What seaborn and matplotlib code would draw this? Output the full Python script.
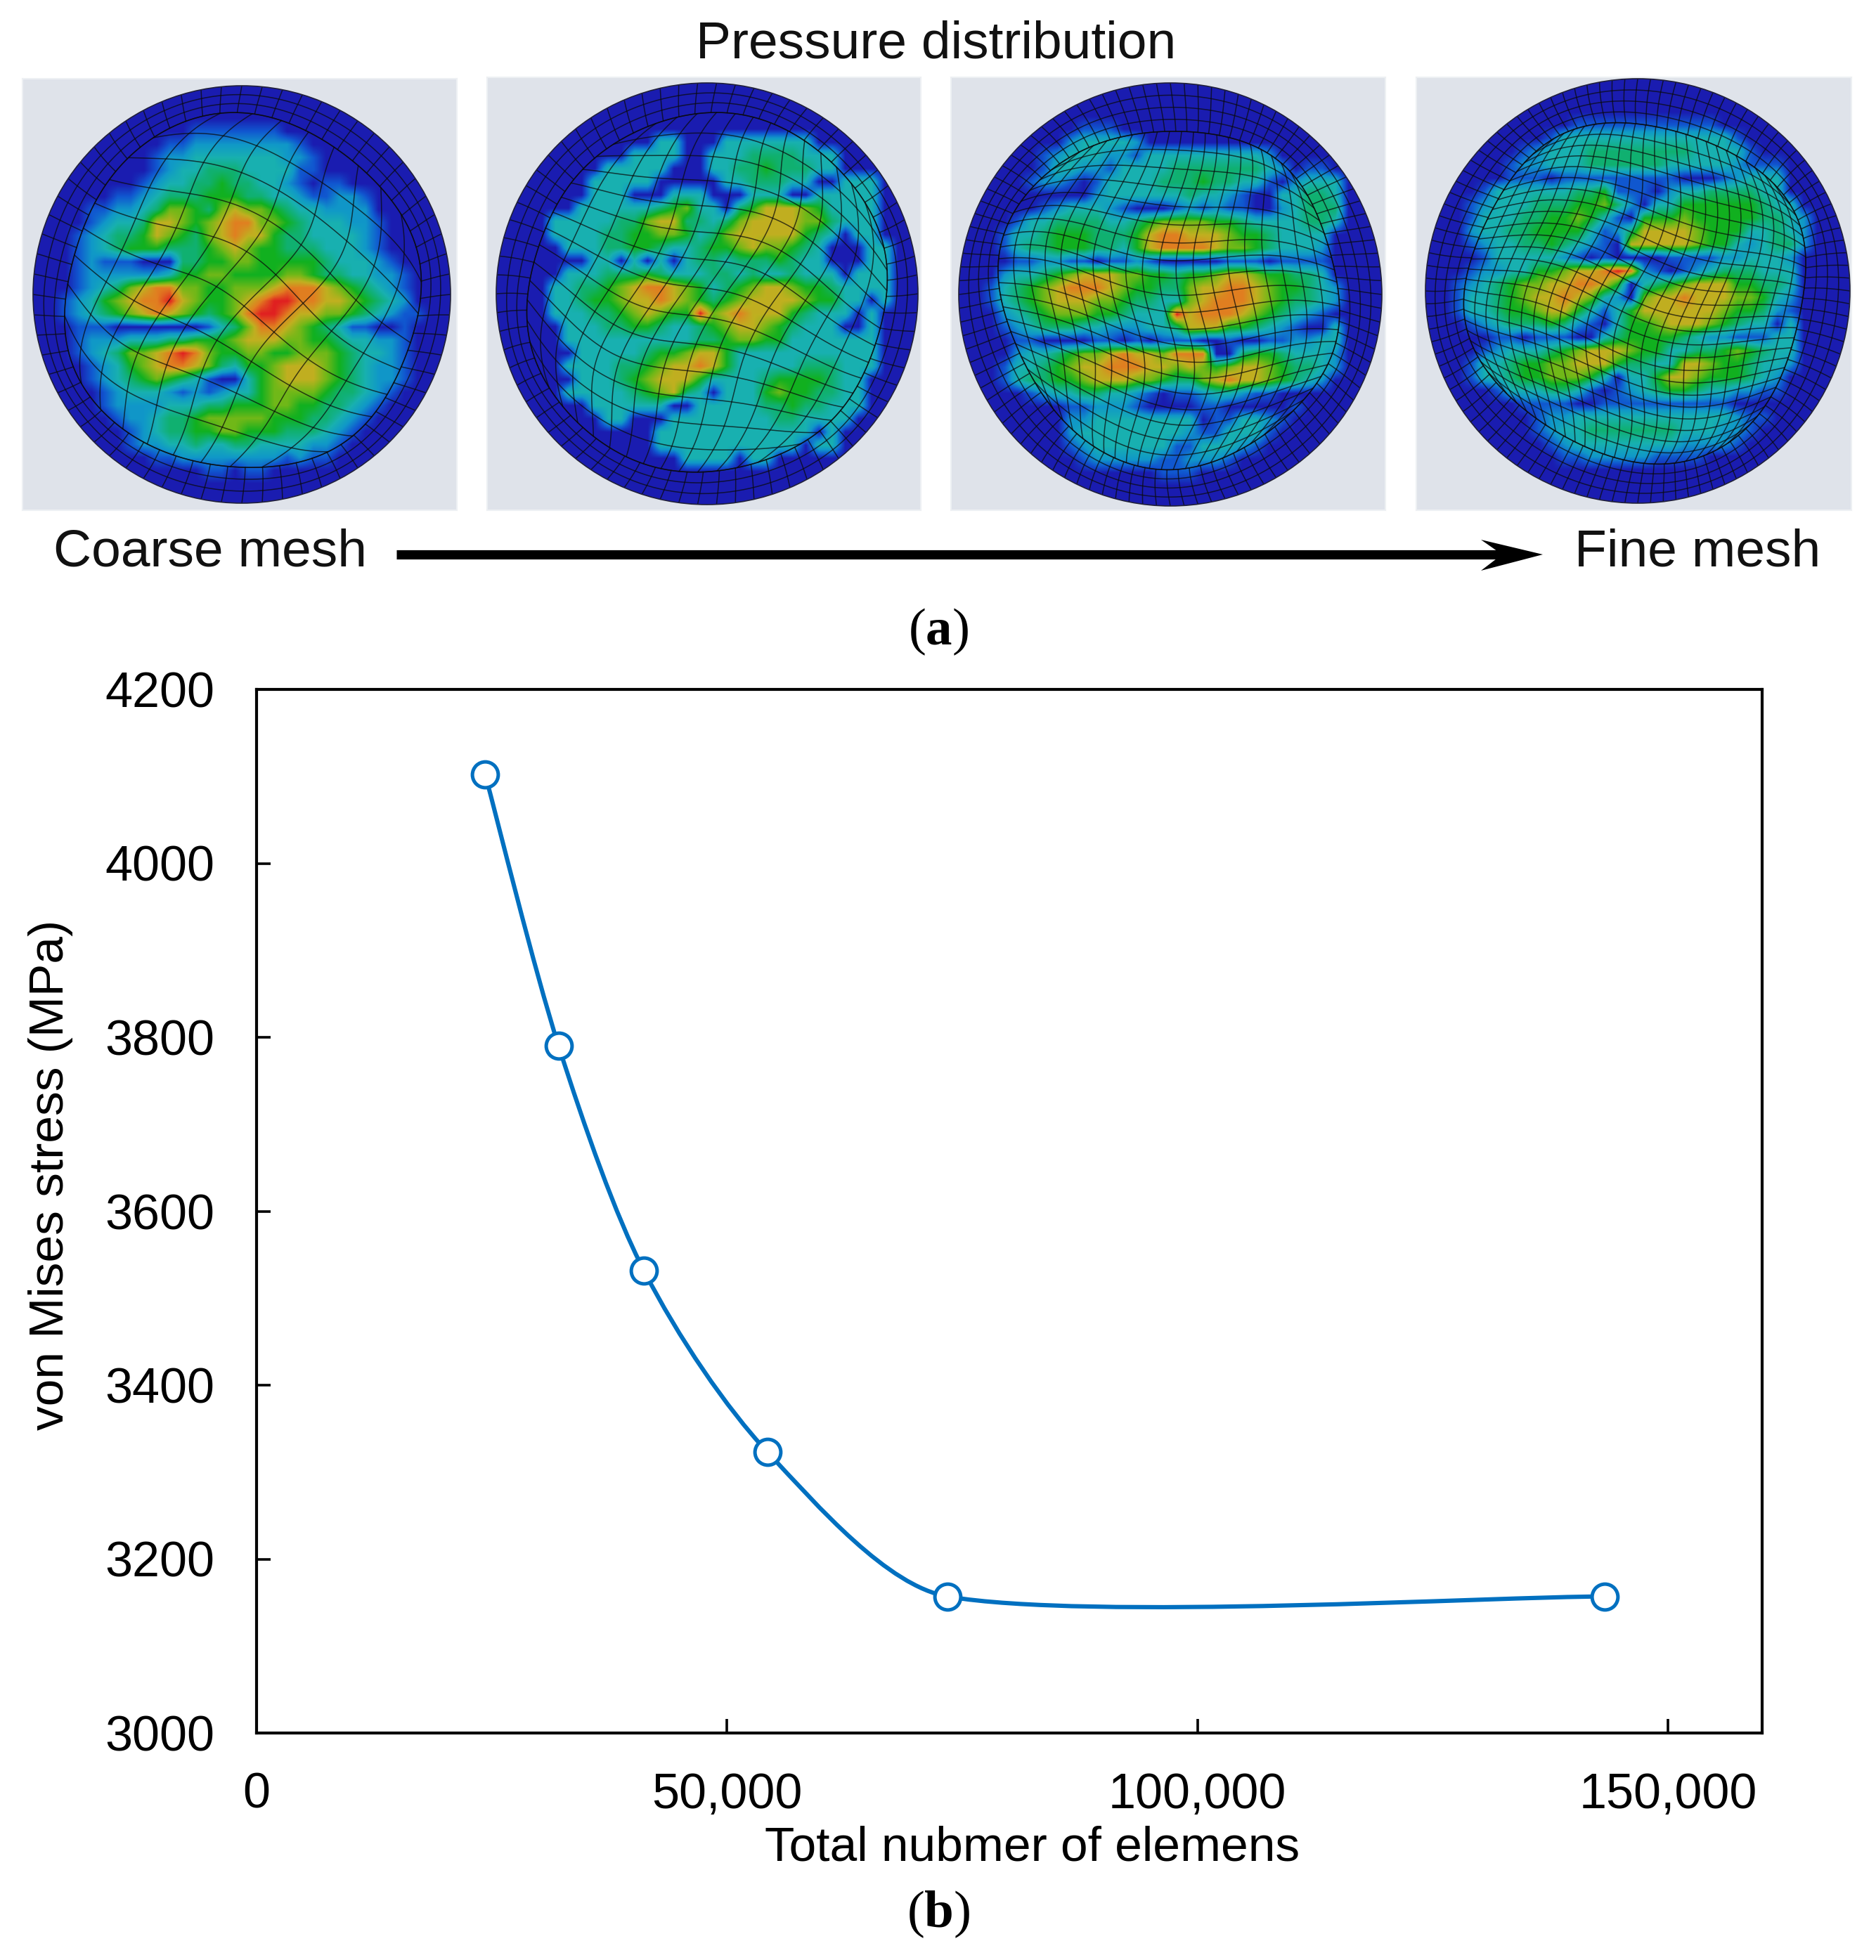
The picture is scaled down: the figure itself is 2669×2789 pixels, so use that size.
import numpy as np
import pandas as pd
import seaborn as sns
import matplotlib.pyplot as plt
from matplotlib.colors import LinearSegmentedColormap
from matplotlib.patches import Circle, PathPatch, Polygon
from matplotlib.path import Path

# mesh convergence data
elements = [24300, 32100, 41150, 54300, 73430, 143270]
stress = [4102, 3790, 3532, 3323, 3157, 3157]
x_ticks = [0, 50000, 100000, 150000]
x_tick_labels = ['0', '50,000', '100,000', '150,000']
y_ticks = [3000, 3200, 3400, 3600, 3800, 4000, 4200]

# pressure level, 0 = no contact, 9 = peak
pressure_1 = [
    '00000000000000000000000000000000', '00000000000000000000000000000000', '00000000000000000000000000000000',
    '00000000000011111110000000000000', '00000000001122222222100000000000', '00000000012233333332210000000000',
    '00000000012334443333110000000000', '00000000123344544332101100000000', '00000011234445554433211221000000',
    '00001122346654676654332222000000', '00001233477656788665433322100000', '00012344576546787754433332100000',
    '00012345554445676554443332100000', '00012111000445566555554333210000', '00012222223556655556654433221000',
    '00012346788665566678887654321000', '00123567889765567899887765432000', '00123456787654568998776654321100',
    '00011100000001346887654311001000', '00012223334455567776655433221000', '00012346678986556655666543321000',
    '00001235678876435567776543221000', '00001234565431003567776543221000', '00000123332121233566665443210000',
    '00000122223334455566554432100000', '00000012234456666655544321000000', '00000001234455665554443210000000',
    '00000001223343344333322100000000', '00000000011222222221211000000000', '00000000000001101100000000000000',
    '00000000000000000000000000000000', '00000000000000000000000000000000']
pressure_2 = [
    '00000000000000000000000000000000', '00000000000000000000000000000000', '00000000000000000000000000000000',
    '00000000000000000000000000000000', '00000000000033000333333300000000', '00000000003333003334444333000000',
    '00000000333330003344544433000000', '00000003333300000334443300333000', '00000003330003330003330033333000',
    '00000033333345633045777653333000', '00003333344677443467777664333000', '00003333445566534677777543033000',
    '00000333445543345567665430003300', '00000003303030344344454330003300', '00000333444543334434334333033300',
    '00003344567887653456776554333300', '00003345567787654567777655330300', '00003334456765596787775433303000',
    '00000333445543345677654333003000', '00000333333333344566553333333000', '00000033333455677533333333333000',
    '00000333344567787533333444333000', '00000033345677753333455554330000', '00000333334567430333565544330000',
    '00000003333330033333445443330000', '00000000330003333333344333300000', '00000000000033333333333303000000',
    '00000000000033333333333033000000', '00000000000000333303300000000000', '00000000000000000000000000000000',
    '00000000000000000000000000000000', '00000000000000000000000000000000']
pressure_3 = [
    '00000000000000000000000000000000', '00000000000000000000000000000000', '00000000000000000000000000000000',
    '00000000011100000000000000000000', '00000000233332000000000000000000', '00000012333221333333333200000000',
    '00000013322133334444444320110000', '00000122101333344454433102333000', '00000000002333333433210033443000',
    '00000012333210001212110023444000', '00001334444334566665543333443000', '00013345554445788777655433330000',
    '00013445554435788887665433320000', '00001122110112100000111011110000', '00023345677766554556776554430000',
    '00134567888765544677887655432000', '00134567776654433678887654432000', '00023456665543339788876543210000',
    '00012344433222334777554321003000', '00001100001101011100100112233000', '00002334566787768880045543332000',
    '00013345677888776765677654432000', '00013445567776654467877654320000', '00000123344332101123321100000000',
    '00000000112221000011000001000000', '00000000223333333301133210000000', '00000000233333333211333100000000',
    '00000000123333331133321000000000', '00000000012222211222100000000000', '00000000000000011100000000000000',
    '00000000000000000000000000000000', '00000000000000000000000000000000']
pressure_4 = [
    '00000000000000000000000000000000', '00000000000000000000000000000000', '00000000000000000000000000000000',
    '00000000000111111111110000000000', '00000000013333333333333100000000', '00000001233344444444333310000000',
    '00000012233344444433333211100000', '00000011101111111110001233300000', '00001333333445111023344443300000',
    '00012333444556420335555554330000', '00013334455653105556555554432000', '00023344555531247777655533432000',
    '00012334454321077777655323442000', '00001333332101000011112233320000', '00012233556778982101234443330000',
    '00123456677887503456777554430000', '00133456778763206778777665320000', '00133455677531357777776554210000',
    '00012344454210355677765433030000', '00000110111003455554322111330000', '00001233345677765533445654330000',
    '00013345566777544337765543320000', '00013345566653033577655543200000', '00000133344310123455433221100000',
    '00000001111001111111111000000000', '00000000122333333333333211000000', '00000000123344444443332210000000',
    '00000000012333333332222100000000', '00000000001122222111100000000000', '00000000000000000000000000000000',
    '00000000000000000000000000000000', '00000000000000000000000000000000']
pressures = [pressure_1, pressure_2, pressure_3, pressure_4]

# mesh density of each panel
inner_cells = [9, 14, 20, 24]
ring_counts = [3, 3, 4, 4]
spoke_counts = [64, 70, 96, 104]
mesh_tilt = [28, 22, 6, 10]

W, H = 2669, 2789
DARK = '#0a0a0a'
BLUE = '#0070C0'

sns.set_theme(style='white')
plt.rcParams['font.family'] = ['Liberation Sans', 'DejaVu Sans']
plt.rcParams['mathtext.fontset'] = 'custom'
plt.rcParams['mathtext.rm'] = 'Liberation Serif'
plt.rcParams['mathtext.bf'] = 'Liberation Serif:bold'

cmap = LinearSegmentedColormap.from_list('contour', [
    '#1a1cb0', '#1058d0', '#1098c8', '#18b0b0', '#10b070',
    '#10b020', '#70b818', '#c0b020', '#e08020', '#e02020'])

fig = plt.figure(figsize=(W / 100, H / 100), dpi=100, facecolor='white')


def px_axes(x0, y0, x1, y1):
    # axes from picture pixels (y goes down)
    return fig.add_axes([x0 / W, 1 - y1 / H, (x1 - x0) / W, (y1 - y0) / H])


def bend(xs, ys, phase):
    # small bend so the cells do not look like a perfect grid, none at the rim
    fade = 1 - np.minimum(xs**2 + ys**2, 1)
    return (xs + 0.08 * fade * np.sin(5.0 * ys + phase),
            ys + 0.08 * fade * np.sin(4.0 * xs + 1.3 * phase))


def draw_mesh(ax, cx, cy, r, n_inner, n_rings, n_spokes, tilt, clip):
    r_in = 1 - 0.05 * n_rings
    t = np.linspace(-1, 1, 80)
    lines = []
    a_t = np.radians(tilt)
    for v in np.linspace(-1, 1, n_inner + 1):
        xa, ya = t * np.sqrt(1 - v**2 / 2) * r_in, v * np.sqrt(1 - t**2 / 2) * r_in
        xb, yb = v * np.sqrt(1 - t**2 / 2) * r_in, t * np.sqrt(1 - v**2 / 2) * r_in
        lines.append((xa * np.cos(a_t) - ya * np.sin(a_t), xa * np.sin(a_t) + ya * np.cos(a_t)))
        lines.append((xb * np.cos(a_t) - yb * np.sin(a_t), xb * np.sin(a_t) + yb * np.cos(a_t)))
    a = np.linspace(0, 2 * np.pi, 361)
    for rr in np.linspace(r_in, 1, n_rings + 1)[:-1]:
        lines.append((rr * np.cos(a), rr * np.sin(a)))
    for ang in np.linspace(0, 2 * np.pi, n_spokes, endpoint=False):
        s = np.linspace(r_in, 1, 8)
        lines.append((s * np.cos(ang), s * np.sin(ang)))
    for xs, ys in lines:
        bx, by = bend(xs, ys, tilt)
        ln, = ax.plot(cx + r * bx, cy + r * by, color=DARK, lw=1.1, alpha=0.72)
        ln.set_clip_path(clip)


# panels: frame box and circle in picture pixels
frames = [(32, 112, 650, 726), (693, 110, 1310, 726), (1353, 110, 1971, 726), (2015, 110, 2634, 726)]
circles = [(344, 419, 297), (1006, 418, 300), (1665, 419, 301), (2330, 414, 302)]

for i in range(4):
    x0, y0, x1, y1 = frames[i]
    cx, cy, r = circles[i]
    ax = px_axes(x0, y0, x1, y1)
    ax.set_facecolor('#dfe3ea')
    for s in ax.spines.values():
        s.set_color('#edf0f3')
        s.set_linewidth(1.5)
    ax.set_xticks([])
    ax.set_yticks([])
    grid = np.array([[int(c) for c in row] for row in pressures[i]], dtype=float)
    im = ax.imshow(grid, cmap=cmap, vmin=0, vmax=9, extent=(cx - r, cx + r, cy + r, cy - r),
                   interpolation='bilinear', aspect='auto', zorder=1)
    clip = Circle((cx, cy), r, transform=ax.transData)
    im.set_clip_path(clip)
    draw_mesh(ax, cx, cy, r, inner_cells[i], ring_counts[i], spoke_counts[i], mesh_tilt[i], clip)
    ax.add_patch(Circle((cx, cy), r, fill=False, ec='#20203a', lw=1.2, zorder=5))
    ax.set_xlim(x0, x1)
    ax.set_ylim(y1, y0)

# overlay for the texts and the arrow above the panels
over = fig.add_axes([0, 0, 1, 1], zorder=10)
over.set_xlim(0, W)
over.set_ylim(H, 0)
over.axis('off')
over.text(1332, 63, 'Pressure distribution', fontsize=54, color='#111111', ha='center', va='center')
over.text(76, 786, 'Coarse mesh', fontsize=54, color='#111111', ha='left', va='center')
over.text(2240, 786, 'Fine mesh', fontsize=54, color='#111111', ha='left', va='center')
over.plot([564, 2140], [789, 789], color='black', lw=9.5, solid_capstyle='butt')
over.add_patch(Polygon([(2107, 768), (2195, 789), (2107, 812), (2137, 789)], closed=True, color='black', lw=0))
over.text(1335, 899, r'$\mathrm{(}\mathbf{a}\mathrm{)}$', fontsize=54, color='black', ha='center', va='center')
over.text(1335, 2724, r'$\mathrm{(}\mathbf{b}\mathrm{)}$', fontsize=54, color='black', ha='center', va='center')

# chart (b)
df = pd.DataFrame({'elements': elements, 'stress': stress})
ax = px_axes(365, 981, 2507, 2466)

# smooth line the way a spreadsheet draws it: one bezier per segment between the points
pts = df[['elements', 'stress']].to_numpy(dtype=float)
verts = [tuple(pts[0])]
codes = [Path.MOVETO]
for k in range(len(pts) - 1):
    p0 = pts[max(k - 1, 0)]
    p1 = pts[k]
    p2 = pts[k + 1]
    p3 = pts[min(k + 2, len(pts) - 1)]
    # keep the handle short next to a much longer neighbour segment
    back = (p3 - p1) / 6
    cap = (p2[0] - p1[0]) / 3
    if back[0] > cap:
        back = back * cap / back[0]
    verts += [tuple(p1 + (p2 - p0) / 6), tuple(p2 - back), tuple(p2)]
    codes += [Path.CURVE4] * 3
ax.add_patch(PathPatch(Path(verts, codes), fill=False, ec=BLUE, lw=4.4, zorder=2))

sns.scatterplot(data=df, x='elements', y='stress', ax=ax, s=700, color='white',
                edgecolor=BLUE, linewidth=3.6, zorder=3, clip_on=False)

ax.set_xlim(0, 160000)
ax.set_ylim(3000, 4200)
ax.set_xticks(x_ticks)
ax.set_xticklabels(x_tick_labels)
ax.set_yticks(y_ticks)
ax.tick_params(axis='x', direction='in', length=14.4, width=2.6, pad=40, labelsize=50.5, colors='black', bottom=True)
ax.tick_params(axis='y', direction='in', length=14.4, width=2.6, pad=43, labelsize=50.5, colors='black', left=True)
for s in ax.spines.values():
    s.set_visible(True)
    s.set_color('black')
    s.set_linewidth(3)
ax.set_xlabel('Total nubmer of elemens', fontsize=50, color='black', va='center')
ax.set_ylabel('von Mises stress (MPa)', fontsize=50, color='black', va='center')
ax.xaxis.set_label_coords(0.515, -0.11)
ax.yaxis.set_label_coords(-0.137, 0.535)

fig.savefig('out.png', dpi=100)
